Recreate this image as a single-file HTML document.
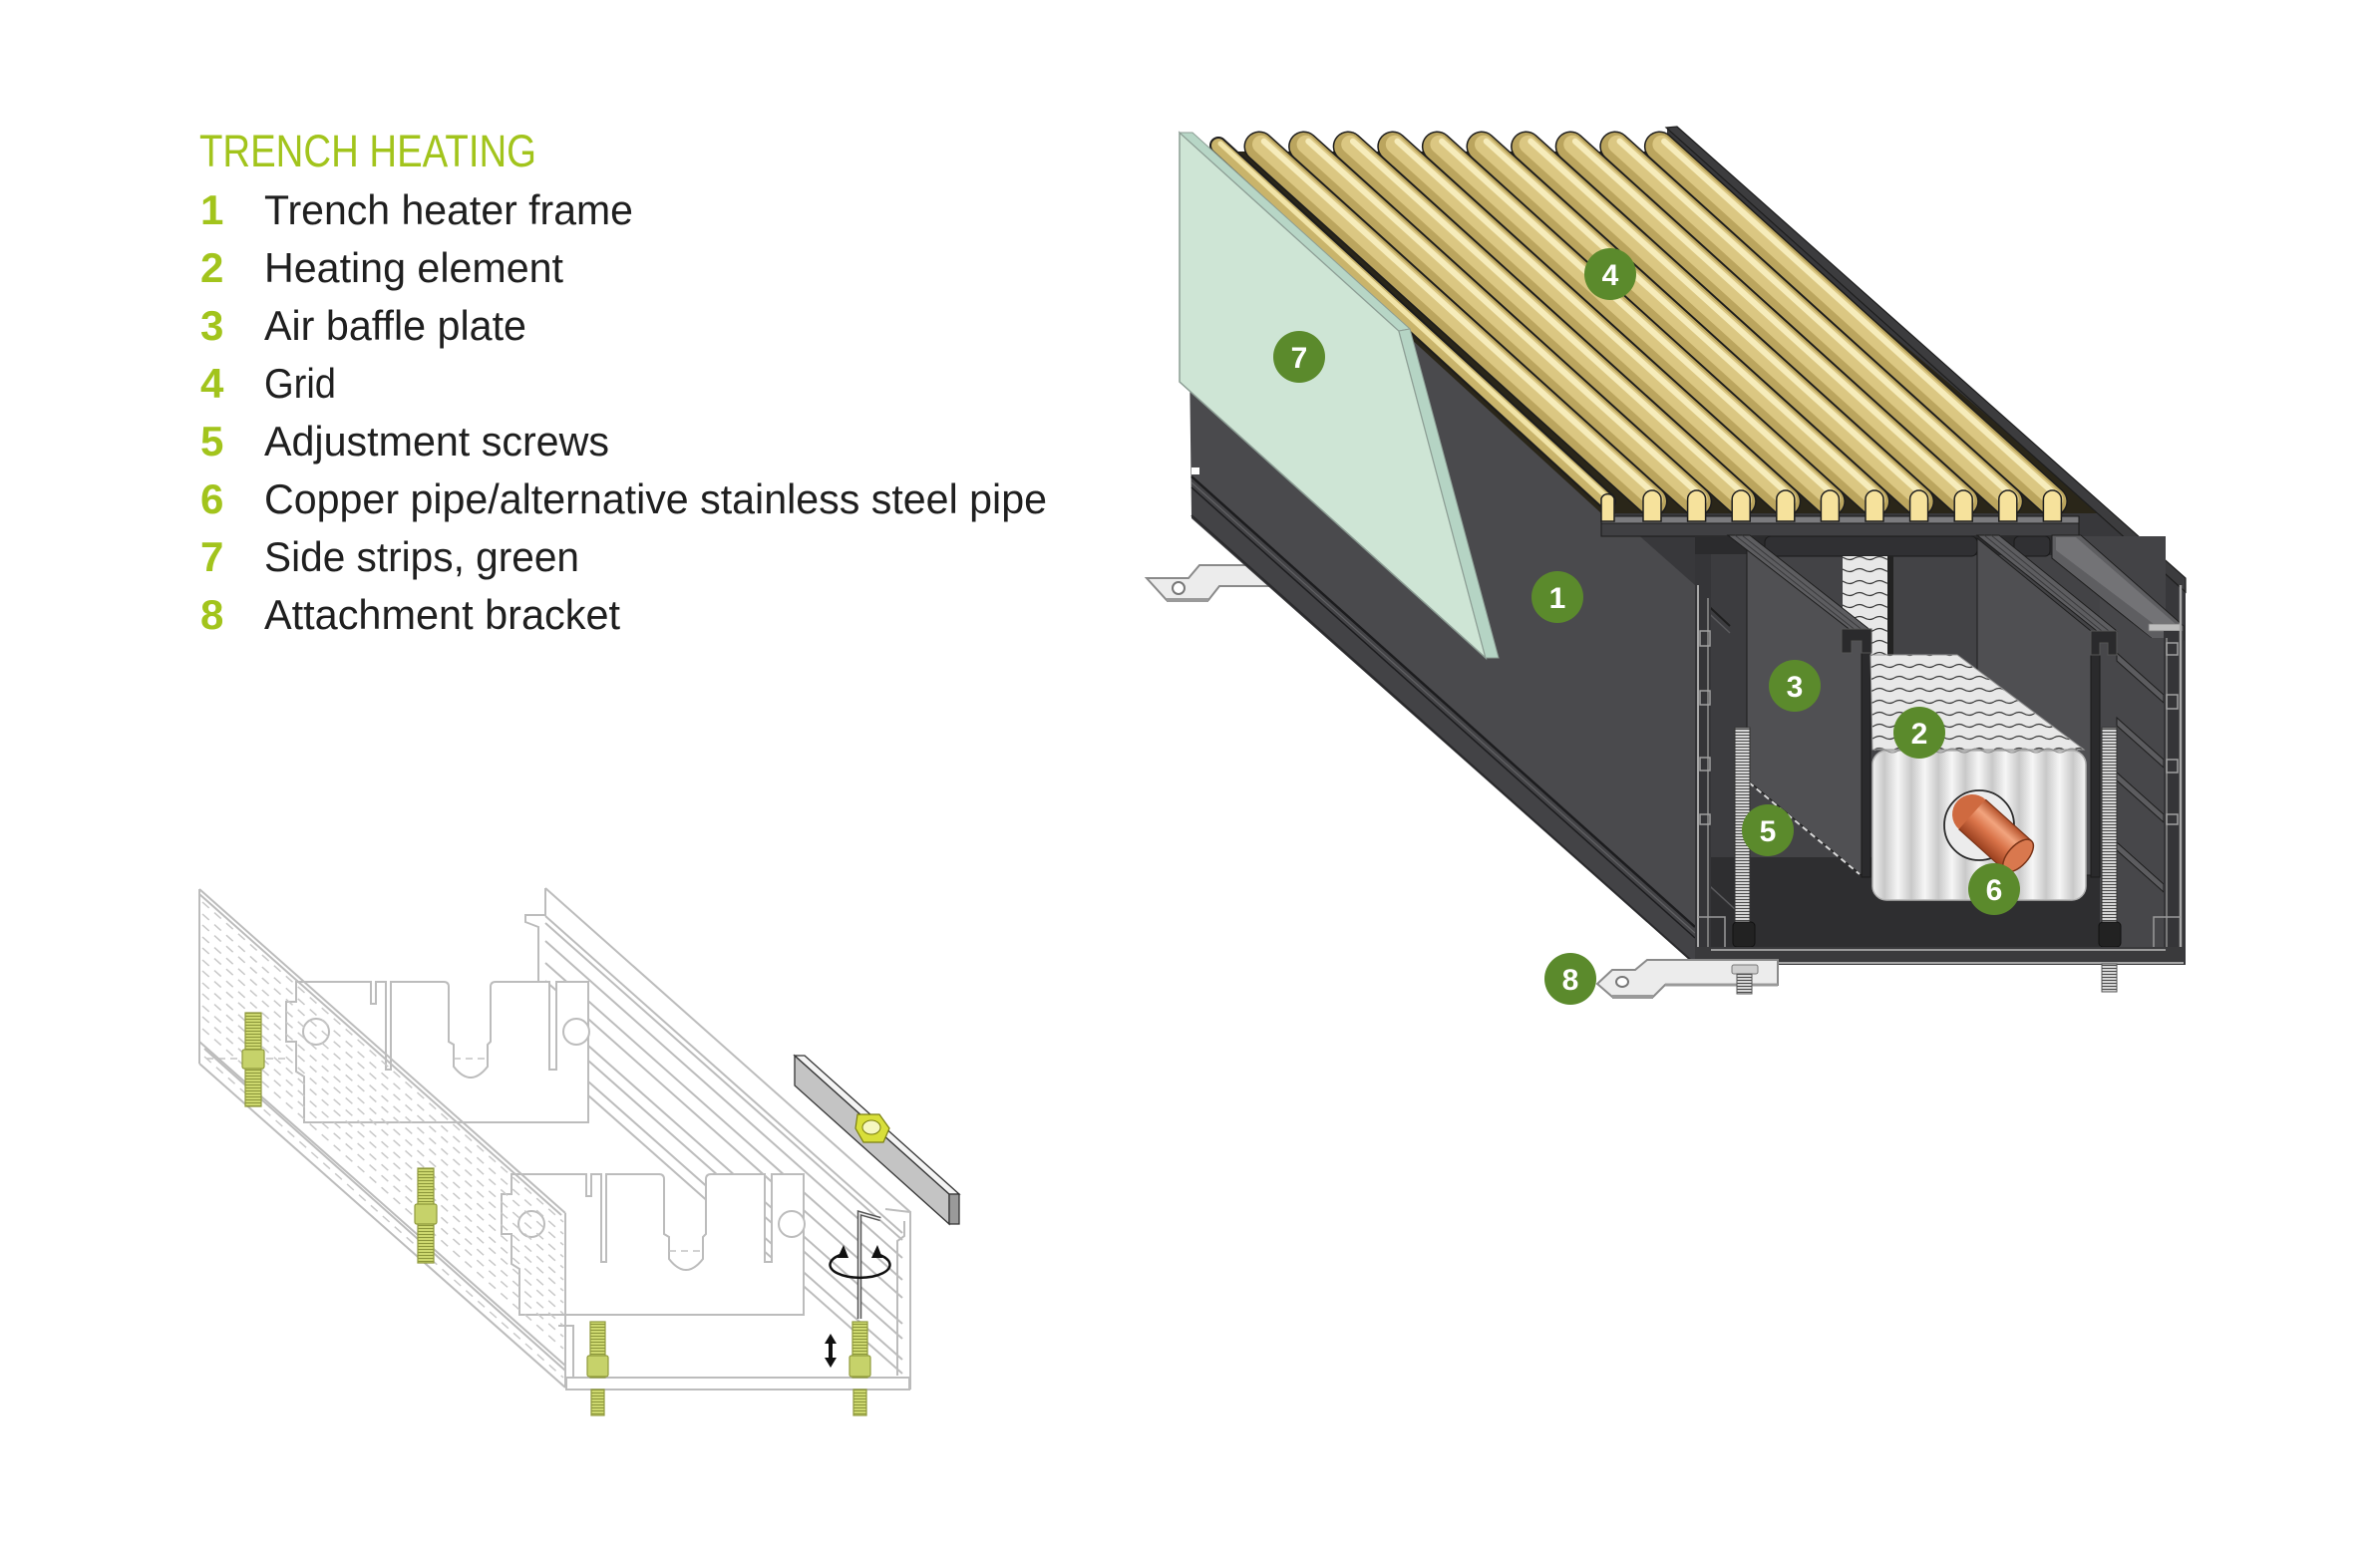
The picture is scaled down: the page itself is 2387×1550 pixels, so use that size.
<!DOCTYPE html>
<html><head><meta charset="utf-8"><style>
html,body{margin:0;padding:0;background:#fff;}
svg{display:block;}
text{font-family:"Liberation Sans",Arial,sans-serif;}
</style></head><body>
<svg width="2387" height="1550" viewBox="0 0 2387 1550" xmlns="http://www.w3.org/2000/svg">
<defs>
<pattern id="fins" width="20" height="12" patternUnits="userSpaceOnUse"><rect width="20" height="12" fill="#e8e8e8"/><path d="M0 8 Q5 5 10 8 T20 8" stroke="#3a3a3a" stroke-width="1.3" fill="none"/></pattern>
<linearGradient id="ribg" x1="0" y1="0" x2="1" y2="0"><stop offset="0" stop-color="#c9c9c9"/><stop offset="0.5" stop-color="#f6f6f6"/><stop offset="1" stop-color="#c9c9c9"/></linearGradient>
<pattern id="ribs" width="27" height="20" patternUnits="userSpaceOnUse"><rect width="27" height="20" fill="url(#ribg)"/></pattern>
<pattern id="thr" width="6" height="3" patternUnits="userSpaceOnUse"><rect width="6" height="3" fill="#d6d6d6"/><rect y="2" width="6" height="1" fill="#4a4a4a"/></pattern>
<pattern id="thy" width="6" height="3" patternUnits="userSpaceOnUse"><rect width="6" height="3" fill="#cdd86f"/><rect y="2" width="6" height="1" fill="#8b963a"/></pattern>
<linearGradient id="cu" x1="0" y1="0" x2="0" y2="1"><stop offset="0" stop-color="#b5522b"/><stop offset="0.3" stop-color="#f2a47e"/><stop offset="0.6" stop-color="#d87248"/><stop offset="1" stop-color="#993f1e"/></linearGradient>
</defs>

<!-- ===== LEGEND ===== -->
<text x="200" y="167" font-size="45" fill="#a2c41c" textLength="338" lengthAdjust="spacingAndGlyphs">TRENCH HEATING</text>
<g font-size="42" font-weight="bold" fill="#a2c41c">
<text x="201" y="225">1</text><text x="201" y="283">2</text><text x="201" y="341">3</text><text x="201" y="399">4</text>
<text x="201" y="457">5</text><text x="201" y="515">6</text><text x="201" y="573">7</text><text x="201" y="631">8</text>
</g>
<g font-size="42" fill="#1f1f1f">
<text x="265" y="225" textLength="370" lengthAdjust="spacingAndGlyphs">Trench heater frame</text>
<text x="265" y="283" textLength="300" lengthAdjust="spacingAndGlyphs">Heating element</text>
<text x="265" y="341" textLength="263" lengthAdjust="spacingAndGlyphs">Air baffle plate</text>
<text x="265" y="399" textLength="72" lengthAdjust="spacingAndGlyphs">Grid</text>
<text x="265" y="457" textLength="346" lengthAdjust="spacingAndGlyphs">Adjustment screws</text>
<text x="265" y="515" textLength="785" lengthAdjust="spacingAndGlyphs">Copper pipe/alternative stainless steel pipe</text>
<text x="265" y="573" textLength="316" lengthAdjust="spacingAndGlyphs">Side strips, green</text>
<text x="265" y="631" textLength="357" lengthAdjust="spacingAndGlyphs">Attachment bracket</text>
</g>

<!-- ===== MAIN DIAGRAM ===== -->
<!-- top-left bracket -->
<polygon points="1150,580 1192,580 1203,567 1280,567 1280,588 1223,588 1212,602 1170,602" fill="#ececec" stroke="#8a8a8a" stroke-width="2"/>
<line x1="1170" y1="602" x2="1212" y2="602" stroke="#9a9a9a" stroke-width="4"/>
<circle cx="1182" cy="590" r="6" fill="#fff" stroke="#777" stroke-width="2"/>

<polygon points="1195,152 1672,152 1672,128 1682,128 2192,583 2192,968 1700,968 1195,520" fill="#38383b"/>
<!-- left wall face -->
<polygon points="1190,135 1700,587 1700,967 1195,517" fill="#4a4a4d"/>
<polygon points="1195,478 1700,930 1700,967 1195,517" fill="#434346"/>
<line x1="1195" y1="478" x2="1700" y2="930" stroke="#1c1c1e" stroke-width="2.5"/>
<line x1="1195" y1="484" x2="1700" y2="936" stroke="#606063" stroke-width="1.2"/>
<line x1="1195" y1="489" x2="1700" y2="941" stroke="#1c1c1e" stroke-width="1.5"/>
<line x1="1195" y1="517" x2="1700" y2="967" stroke="#2a2a2c" stroke-width="2"/>
<polygon points="1195,469 1203,469 1203,476 1195,476" fill="#fff"/>

<!-- grid base under slats -->
<polygon points="1210,152 1680,152 2109,515 1606,515" fill="#2a2619"/>
<!-- rim -->
<polygon points="1671,128 1682,127 2192,580 2192,594" fill="#3c3c3e" stroke="#1e1e1e" stroke-width="1.2"/>

<!-- slats -->
<g stroke-linecap="round">
<line x1="1222" y1="146" x2="1612" y2="503" stroke="#1c1c1c" stroke-width="18"/>
<line x1="1222" y1="146" x2="1612" y2="503" stroke="#c9b46b" stroke-width="14"/>
<line x1="1224" y1="144" x2="1614" y2="501" stroke="#f1e4a8" stroke-width="5"/>
</g>
<g stroke-linecap="round">
<g><line x1="1263" y1="147" x2="1657" y2="503" stroke="#1c1c1c" stroke-width="31"/><line x1="1263" y1="147" x2="1657" y2="503" stroke="#bba55e" stroke-width="28"/><line x1="1265" y1="144.8" x2="1659" y2="500.8" stroke="#dbc782" stroke-width="18"/><line x1="1267.7" y1="141.8" x2="1661.7" y2="497.8" stroke="#f6ecbb" stroke-width="6"/></g>
<g><line x1="1307.6" y1="147" x2="1701.6" y2="503" stroke="#1c1c1c" stroke-width="31"/><line x1="1307.6" y1="147" x2="1701.6" y2="503" stroke="#bba55e" stroke-width="28"/><line x1="1309.6" y1="144.8" x2="1703.6" y2="500.8" stroke="#dbc782" stroke-width="18"/><line x1="1312.3" y1="141.8" x2="1706.3" y2="497.8" stroke="#f6ecbb" stroke-width="6"/></g>
<g><line x1="1352.2" y1="147" x2="1746.2" y2="503" stroke="#1c1c1c" stroke-width="31"/><line x1="1352.2" y1="147" x2="1746.2" y2="503" stroke="#bba55e" stroke-width="28"/><line x1="1354.2" y1="144.8" x2="1748.2" y2="500.8" stroke="#dbc782" stroke-width="18"/><line x1="1356.9" y1="141.8" x2="1750.9" y2="497.8" stroke="#f6ecbb" stroke-width="6"/></g>
<g><line x1="1396.8" y1="147" x2="1790.8" y2="503" stroke="#1c1c1c" stroke-width="31"/><line x1="1396.8" y1="147" x2="1790.8" y2="503" stroke="#bba55e" stroke-width="28"/><line x1="1398.8" y1="144.8" x2="1792.8" y2="500.8" stroke="#dbc782" stroke-width="18"/><line x1="1401.5" y1="141.8" x2="1795.5" y2="497.8" stroke="#f6ecbb" stroke-width="6"/></g>
<g><line x1="1441.4" y1="147" x2="1835.4" y2="503" stroke="#1c1c1c" stroke-width="31"/><line x1="1441.4" y1="147" x2="1835.4" y2="503" stroke="#bba55e" stroke-width="28"/><line x1="1443.4" y1="144.8" x2="1837.4" y2="500.8" stroke="#dbc782" stroke-width="18"/><line x1="1446.1" y1="141.8" x2="1840.1" y2="497.8" stroke="#f6ecbb" stroke-width="6"/></g>
<g><line x1="1486" y1="147" x2="1880" y2="503" stroke="#1c1c1c" stroke-width="31"/><line x1="1486" y1="147" x2="1880" y2="503" stroke="#bba55e" stroke-width="28"/><line x1="1488" y1="144.8" x2="1882" y2="500.8" stroke="#dbc782" stroke-width="18"/><line x1="1490.7" y1="141.8" x2="1884.7" y2="497.8" stroke="#f6ecbb" stroke-width="6"/></g>
<g><line x1="1530.6" y1="147" x2="1924.6" y2="503" stroke="#1c1c1c" stroke-width="31"/><line x1="1530.6" y1="147" x2="1924.6" y2="503" stroke="#bba55e" stroke-width="28"/><line x1="1532.6" y1="144.8" x2="1926.6" y2="500.8" stroke="#dbc782" stroke-width="18"/><line x1="1535.3" y1="141.8" x2="1929.3" y2="497.8" stroke="#f6ecbb" stroke-width="6"/></g>
<g><line x1="1575.2" y1="147" x2="1969.2" y2="503" stroke="#1c1c1c" stroke-width="31"/><line x1="1575.2" y1="147" x2="1969.2" y2="503" stroke="#bba55e" stroke-width="28"/><line x1="1577.2" y1="144.8" x2="1971.2" y2="500.8" stroke="#dbc782" stroke-width="18"/><line x1="1579.9" y1="141.8" x2="1973.9" y2="497.8" stroke="#f6ecbb" stroke-width="6"/></g>
<g><line x1="1619.8" y1="147" x2="2013.8" y2="503" stroke="#1c1c1c" stroke-width="31"/><line x1="1619.8" y1="147" x2="2013.8" y2="503" stroke="#bba55e" stroke-width="28"/><line x1="1621.8" y1="144.8" x2="2015.8" y2="500.8" stroke="#dbc782" stroke-width="18"/><line x1="1624.5" y1="141.8" x2="2018.5" y2="497.8" stroke="#f6ecbb" stroke-width="6"/></g>
<g><line x1="1664.4" y1="147" x2="2058.4" y2="503" stroke="#1c1c1c" stroke-width="31"/><line x1="1664.4" y1="147" x2="2058.4" y2="503" stroke="#bba55e" stroke-width="28"/><line x1="1666.4" y1="144.8" x2="2060.4" y2="500.8" stroke="#dbc782" stroke-width="18"/><line x1="1669.1" y1="141.8" x2="2063.1" y2="497.8" stroke="#f6ecbb" stroke-width="6"/></g>
</g>

<!-- tray -->
<rect x="1606" y="518" width="479" height="7" fill="#7b7b7e" stroke="#1a1a1a" stroke-width="1"/>
<rect x="1606" y="525" width="479" height="13" fill="#404043" stroke="#1a1a1a" stroke-width="1"/>
<!-- end caps -->
<g fill="#f6e29c" stroke="#1e1e1e" stroke-width="1.5">
<path d="M1606 523 L1606 500 A7 7 0 0 1 1619 500 L1619 523 Z"/>
<path d="M1648 523 L1648 501 A9 9 0 0 1 1666 501 L1666 523 Z"/>
<path d="M1692.6 523 L1692.6 501 A9 9 0 0 1 1710.6 501 L1710.6 523 Z"/>
<path d="M1737.2 523 L1737.2 501 A9 9 0 0 1 1755.2 501 L1755.2 523 Z"/>
<path d="M1781.8 523 L1781.8 501 A9 9 0 0 1 1799.8 501 L1799.8 523 Z"/>
<path d="M1826.4 523 L1826.4 501 A9 9 0 0 1 1844.4 501 L1844.4 523 Z"/>
<path d="M1871 523 L1871 501 A9 9 0 0 1 1889 501 L1889 523 Z"/>
<path d="M1915.6 523 L1915.6 501 A9 9 0 0 1 1933.6 501 L1933.6 523 Z"/>
<path d="M1960.2 523 L1960.2 501 A9 9 0 0 1 1978.2 501 L1978.2 523 Z"/>
<path d="M2004.8 523 L2004.8 501 A9 9 0 0 1 2022.8 501 L2022.8 523 Z"/>
<path d="M2049.4 523 L2049.4 501 A9 9 0 0 1 2067.4 501 L2067.4 523 Z"/>
</g>

<!-- interior -->
<rect x="1716" y="538" width="456" height="324" fill="#434346"/>
<rect x="1700" y="538" width="360" height="19" fill="#2b2b2d"/>
<rect x="1770" y="538" width="213" height="20" rx="6" fill="#303033" stroke="#1a1a1a" stroke-width="1"/>
<rect x="2020" y="538" width="36" height="20" rx="5" fill="#303033" stroke="#1a1a1a" stroke-width="1"/>
<rect x="1716" y="860" width="456" height="92" fill="#2e2e30"/>
<polygon points="1705,556 1752,556 1752,860 1705,860" fill="#3c3c3f"/>
<line x1="1705" y1="600" x2="1735" y2="628" stroke="#1e1e1e" stroke-width="2"/>
<line x1="1705" y1="607" x2="1735" y2="635" stroke="#5a5a5d" stroke-width="1.5"/>
<line x1="1705" y1="880" x2="1740" y2="912" stroke="#5a5a5d" stroke-width="1.5"/>

<!-- right wall upper inner face -->
<polygon points="2058,537 2087,537 2190,628 2190,642 2160,642 2058,560" fill="#5e5e61" stroke="#1e1e1e" stroke-width="1"/>
<polygon points="2062,539 2082,539 2182,626 2160,626 2062,552" fill="#737376"/>
<rect x="2155" y="626" width="32" height="7" fill="#bdbdbd" stroke="#777" stroke-width="0.8"/>

<!-- right inner wall ribs -->
<rect x="2106" y="640" width="66" height="312" fill="#47474a"/>
<polygon points="2106,600 2160,642 2106,642" fill="#47474a"/>
<g fill="#5c5c5f" stroke="#1e1e1e" stroke-width="1">
<polygon points="2170,697 2170,705 2123,663 2123,655"/>
<polygon points="2170,762 2170,770 2123,728 2123,720"/>
<polygon points="2170,817 2170,825 2123,783 2123,775"/>
<polygon points="2170,887 2170,895 2123,853 2123,845"/>
</g>

<!-- fin strip behind -->
<rect x="1848" y="558" width="45" height="102" fill="url(#fins)"/>
<rect x="1893" y="558" width="6" height="102" fill="#222"/>

<!-- left baffle -->
<polygon points="1740,540 1867,633 1867,878 1752,782 1752,552" fill="#505053" stroke="#1e1e1e" stroke-width="1"/>
<line x1="1754" y1="785" x2="1865" y2="877" stroke="#d8d8d8" stroke-width="2" stroke-dasharray="6 4"/>
<polygon points="1733,537 1755,537 1877,633 1857,633" fill="#5d5d60" stroke="#1e1e1e" stroke-width="1"/>
<line x1="1740" y1="537" x2="1862" y2="633" stroke="#3a3a3c" stroke-width="1"/>
<line x1="1747" y1="537" x2="1869" y2="633" stroke="#3a3a3c" stroke-width="1"/>
<rect x="1867" y="633" width="9" height="247" fill="#2a2a2c" stroke="#1a1a1a" stroke-width="1"/>
<path d="M1847 631 L1877 631 L1877 655 L1867 655 L1867 643 L1857 643 L1857 655 L1847 655 Z" fill="#2a2a2c" stroke="#555" stroke-width="1"/>

<!-- right baffle -->
<polygon points="1983,540 2097,633 2097,878 1983,878" fill="#4f4f52" stroke="#1e1e1e" stroke-width="1"/>
<polygon points="1983,537 2005,537 2123,633 2103,633" fill="#5d5d60" stroke="#1e1e1e" stroke-width="1"/>
<line x1="1990" y1="537" x2="2108" y2="633" stroke="#3a3a3c" stroke-width="1"/>
<line x1="1997" y1="537" x2="2115" y2="633" stroke="#3a3a3c" stroke-width="1"/>
<rect x="2097" y="633" width="9" height="247" fill="#2a2a2c" stroke="#1a1a1a" stroke-width="1"/>
<path d="M2097 633 L2123 633 L2123 657 L2114 657 L2114 645 L2106 645 L2106 657 L2097 657 Z" fill="#2a2a2c" stroke="#555" stroke-width="1"/>

<!-- heating element -->
<polygon points="1876,657 1963,657 2090,752 1878,752" fill="url(#fins)" stroke="#9a9a9a" stroke-width="1"/>
<rect x="1878" y="753" width="214" height="150" rx="14" fill="url(#ribs)" stroke="#b0b0b0" stroke-width="1.5"/>
<path d="M1880 753 q6 -4 12 0 t12 0 t12 0 t12 0 t12 0 t12 0 t12 0 t12 0 t12 0 t12 0 t12 0 t12 0 t12 0 t12 0 t12 0 t12 0 t12 0" fill="none" stroke="#888" stroke-width="1"/>
<circle cx="1985" cy="828" r="35" fill="#ececec" stroke="#2a2a2a" stroke-width="1.8"/>
<g transform="translate(1978,817) rotate(42)">
<circle cx="0" cy="0" r="20" fill="#cf6a40"/>
<rect x="0" y="-20" width="62" height="40" fill="url(#cu)"/>
<ellipse cx="62" cy="0" rx="10" ry="20" fill="#d9784e" stroke="#7a3418" stroke-width="1.5"/>
<path d="M0 -20 L62 -20 M0 20 L62 20" stroke="#7a3418" stroke-width="1.2"/>
</g>

<!-- screws -->
<rect x="1740" y="730" width="15" height="195" fill="url(#thr)" stroke="#333" stroke-width="1"/>
<rect x="1738" y="925" width="22" height="25" rx="4" fill="#222" stroke="#111"/>
<rect x="2108" y="730" width="15" height="195" fill="url(#thr)" stroke="#333" stroke-width="1"/>
<rect x="2105" y="925" width="22" height="25" rx="4" fill="#222" stroke="#111"/>

<!-- posts & bottom -->
<rect x="1700" y="556" width="16" height="412" fill="#353538"/>
<line x1="1703" y1="587" x2="1703" y2="955" stroke="#a8a8a8" stroke-width="2"/>
<line x1="1713" y1="600" x2="1713" y2="950" stroke="#8e8e8e" stroke-width="1.5"/>
<g fill="none" stroke="#a0a0a0" stroke-width="1.5">
<rect x="1705" y="633" width="10" height="15"/><rect x="1705" y="693" width="10" height="14"/><rect x="1705" y="760" width="10" height="13"/><rect x="1705" y="817" width="10" height="10"/>
</g>
<rect x="2170" y="633" width="20" height="335" fill="#353538"/>
<line x1="2187" y1="587" x2="2187" y2="968" stroke="#a8a8a8" stroke-width="2.5"/>
<line x1="2173" y1="640" x2="2173" y2="950" stroke="#8e8e8e" stroke-width="1.5"/>
<g fill="none" stroke="#a0a0a0" stroke-width="1.5">
<rect x="2173" y="645" width="11" height="12"/><rect x="2173" y="697" width="11" height="14"/><rect x="2173" y="762" width="11" height="13"/><rect x="2173" y="817" width="11" height="10"/>
</g>
<rect x="1700" y="950" width="490" height="18" fill="#3a3a3c"/>
<line x1="1716" y1="953" x2="2172" y2="953" stroke="#9a9a9a" stroke-width="2"/>
<line x1="1700" y1="966" x2="2190" y2="966" stroke="#a8a8a8" stroke-width="2"/>
<path d="M1703 920 L1730 920 L1730 950" fill="none" stroke="#9a9a9a" stroke-width="1.5"/>
<path d="M2187 920 L2160 920 L2160 950" fill="none" stroke="#9a9a9a" stroke-width="1.5"/>

<!-- bracket 8 -->
<polygon points="1602,987 1617,973 1640,973 1652,963 1783,963 1783,988 1670,988 1658,1000 1617,1000" fill="#ececec" stroke="#8a8a8a" stroke-width="2"/>
<line x1="1617" y1="1000" x2="1658" y2="1000" stroke="#9a9a9a" stroke-width="4"/>
<line x1="1670" y1="988" x2="1783" y2="988" stroke="#9a9a9a" stroke-width="3"/>
<ellipse cx="1627" cy="985" rx="6" ry="5" fill="#fff" stroke="#777" stroke-width="2"/>
<rect x="1737" y="968" width="26" height="9" rx="2" fill="#cfcfcf" stroke="#777"/>
<rect x="1742" y="977" width="15" height="20" fill="url(#thr)" stroke="#555" stroke-width="1"/>
<rect x="2108" y="967" width="15" height="28" fill="url(#thr)" stroke="#555" stroke-width="1"/>

<!-- green side strip -->
<polygon points="1183,133 1403,332 1490,660 1183,383" fill="#cee5d5" stroke="#8c9d94" stroke-width="1.5"/>
<polygon points="1183,133 1196,133 1414,330 1403,332" fill="#b7d6c6" stroke="#8c9d94" stroke-width="1"/>
<polygon points="1403,332 1414,330 1503,660 1490,660" fill="#b5d4c4" stroke="#8c9d94" stroke-width="1"/>

<!-- badges -->
<g fill="#5b8a2c">
<circle cx="1303" cy="358" r="26"/><circle cx="1615" cy="275" r="26"/><circle cx="1562" cy="599" r="26"/>
<circle cx="1800" cy="688" r="26"/><circle cx="1925" cy="735" r="26"/><circle cx="1773" cy="833" r="26"/>
<circle cx="2000" cy="892" r="26"/><circle cx="1575" cy="982" r="26"/>
</g>
<g fill="#fff" font-size="30" font-weight="bold" text-anchor="middle">
<text x="1303" y="369">7</text><text x="1615" y="286">4</text><text x="1562" y="610">1</text>
<text x="1800" y="699">3</text><text x="1925" y="746">2</text><text x="1773" y="844">5</text>
<text x="2000" y="903">6</text><text x="1575" y="993">8</text>
</g>

<!-- ===== LOWER LEFT LINE DRAWING ===== -->
<g fill="none" stroke="#bcbcbc" stroke-width="2">
<line x1="547" y1="891" x2="913" y2="1216"/>
<line x1="547" y1="919" x2="905" y2="1237"/>
<line x1="547" y1="926" x2="905" y2="1244"/>
<line x1="547" y1="944" x2="905" y2="1262"/>
<line x1="547" y1="966" x2="905" y2="1284"/>
<line x1="547" y1="984" x2="905" y2="1302"/>
<polyline points="547,891 547,918 527,918 527,925 540,930 540,985"/>
<line x1="590" y1="1049" x2="905" y2="1328"/>
<line x1="590" y1="1064" x2="905" y2="1343"/>
<line x1="590" y1="1085" x2="905" y2="1364"/>
<line x1="590" y1="1099" x2="905" y2="1378"/>
</g>
<g fill="#fff" stroke="#bcbcbc" stroke-width="2">
<path d="M287 1005 L297 1005 L297 985 L372 985 L372 1007 L377 1007 L377 985 L387 985 L387 1073 L392 1073 L392 985 L445 985 Q450 985 450 990 L450 1045 L455 1048 L455 1070 Q472 1092 489 1070 L489 1048 L492 1045 L492 990 Q492 985 497 985 L551 985 L551 1073 L558 1073 L558 985 L590 985 L590 1126 L305 1126 L305 1080 L297 1075 L297 1045 L287 1045 Z"/>
<circle cx="317" cy="1035" r="13"/><circle cx="578" cy="1035" r="13"/>
<g transform="translate(216,193)">
<path d="M287 1005 L297 1005 L297 985 L372 985 L372 1007 L377 1007 L377 985 L387 985 L387 1073 L392 1073 L392 985 L445 985 Q450 985 450 990 L450 1045 L455 1048 L455 1070 Q472 1092 489 1070 L489 1048 L492 1045 L492 990 Q492 985 497 985 L551 985 L551 1073 L558 1073 L558 985 L590 985 L590 1126 L305 1126 L305 1080 L297 1075 L297 1045 L287 1045 Z"/>
<circle cx="317" cy="1035" r="13"/><circle cx="578" cy="1035" r="13"/>
</g>
</g>
<g fill="none" stroke="#c4c4c4" stroke-width="1.5" stroke-dasharray="7 5">
<line x1="455" y1="1062" x2="489" y2="1062"/><line x1="207" y1="1062" x2="287" y2="1062"/>
<line x1="671" y1="1255" x2="705" y2="1255"/>
</g>
<g fill="none" stroke="#bcbcbc" stroke-width="2">
<line x1="200" y1="892" x2="567" y2="1217"/>
<line x1="200" y1="897" x2="563" y2="1219"/>
<line x1="200" y1="892" x2="200" y2="1067"/>
<line x1="200" y1="1045" x2="567" y2="1370"/>
<line x1="205" y1="1052" x2="567" y2="1375"/>
<line x1="200" y1="1067" x2="567" y2="1392"/>
<line x1="567" y1="1217" x2="567" y2="1392"/>
<polyline points="560,1330 575,1330 575,1382"/>
<polyline points="888,1213 913,1216 913,1394"/>
<polyline points="907,1225 907,1240 900,1245 900,1380"/>
<rect x="568" y="1382" width="344" height="12"/>
</g>
<g fill="none" stroke="#c8c8c8" stroke-width="1.5" stroke-dasharray="9 7">
<line x1="203" y1="905" x2="565" y2="1226"/>
<line x1="203" y1="917" x2="565" y2="1238"/>
<line x1="203" y1="928" x2="565" y2="1249"/>
<line x1="203" y1="940" x2="565" y2="1261"/>
<line x1="203" y1="951" x2="565" y2="1272"/>
<line x1="203" y1="963" x2="565" y2="1284"/>
<line x1="203" y1="974" x2="565" y2="1295"/>
<line x1="203" y1="986" x2="565" y2="1307"/>
<line x1="203" y1="997" x2="565" y2="1318"/>
<line x1="203" y1="1009" x2="565" y2="1330"/>
<line x1="203" y1="1020" x2="565" y2="1341"/>
<line x1="203" y1="1032" x2="565" y2="1353"/>
<line x1="205" y1="1060" x2="565" y2="1382"/>
</g>
<g stroke="#8f9a3c" stroke-width="1.2">
<rect x="246" y="1016" width="16" height="94" fill="url(#thy)"/><rect x="243" y="1053" width="22" height="19" rx="2" fill="#c6d26a"/>
<rect x="419" y="1172" width="16" height="95" fill="url(#thy)"/><rect x="416" y="1208" width="22" height="20" rx="2" fill="#c6d26a"/>
<rect x="592" y="1326" width="15" height="56" fill="url(#thy)"/><rect x="589" y="1360" width="21" height="21" rx="2" fill="#c6d26a"/>
<rect x="593" y="1394" width="13" height="26" fill="url(#thy)"/>
<rect x="855" y="1326" width="15" height="56" fill="url(#thy)"/><rect x="852" y="1360" width="21" height="21" rx="2" fill="#c6d26a"/>
<rect x="856" y="1394" width="13" height="26" fill="url(#thy)"/>
</g>
<polyline points="883,1223 862,1217 862,1323" fill="none" stroke="#555" stroke-width="4.5"/>
<polyline points="883,1223 862,1217 862,1323" fill="none" stroke="#eee" stroke-width="1.5"/>
<path d="M846 1258 A30 13 0 1 0 879 1258" fill="none" stroke="#111" stroke-width="2.5"/>
<polygon points="840,1262 846,1249 851,1262" fill="#111"/>
<polygon points="874,1262 880,1249 885,1262" fill="#111"/>
<line x1="833" y1="1346" x2="833" y2="1364" stroke="#111" stroke-width="4"/>
<polygon points="827,1348 833,1338 839,1348" fill="#111"/>
<polygon points="827,1362 833,1372 839,1362" fill="#111"/>
<polygon points="797,1059 952,1198 952,1228 797,1089" fill="#c4c4c4" stroke="#333" stroke-width="1.3"/>
<polygon points="797,1059 807,1059 962,1198 952,1198" fill="#f4f4f4" stroke="#333" stroke-width="1.3"/>
<polygon points="952,1198 962,1198 962,1228 952,1228" fill="#9a9a9a" stroke="#333" stroke-width="1.3"/>
<polygon points="860,1118 882,1118 892,1132 886,1146 866,1146 858,1132" fill="#d8df3a" stroke="#7a7f10" stroke-width="1.2"/>
<ellipse cx="874" cy="1131" rx="9" ry="7" fill="#f5f7c0" stroke="#7a7f10" stroke-width="1"/>
</svg>
</body></html>
